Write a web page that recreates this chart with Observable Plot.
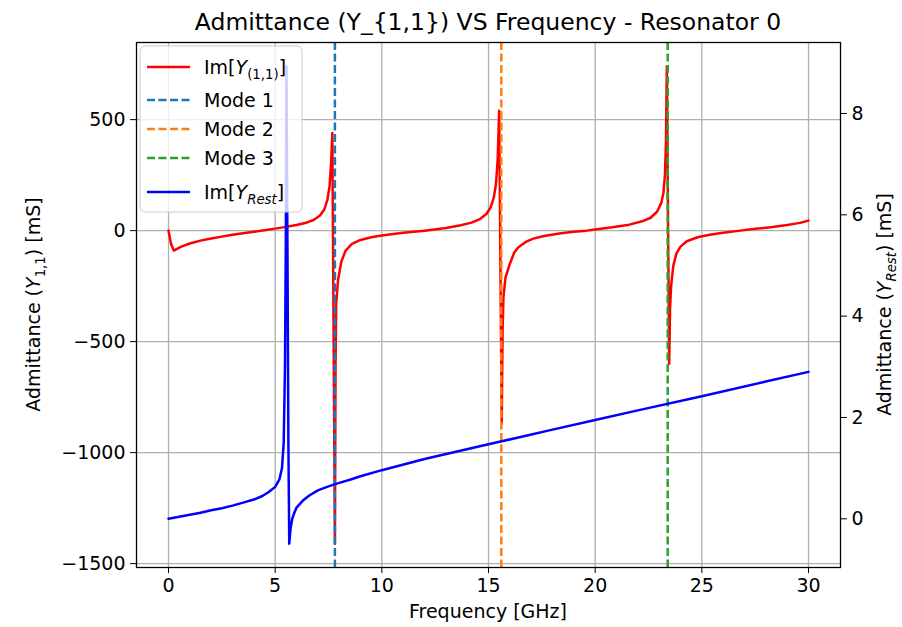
<!DOCTYPE html>
<html><head><meta charset="utf-8">
<script src="https://cdn.jsdelivr.net/npm/d3@7"></script>
<script src="https://cdn.jsdelivr.net/npm/@observablehq/plot@0.6"></script>
<style>
body{margin:0;background:#fff;}
svg{font-family:"DejaVu Sans",sans-serif;}
</style></head><body><div id="chart"></div>
<script>
// ---- data ----
const freqY11 = [0,0.12,0.25,0.4,0.6,1.0,1.5,2.0,2.5,3.0,3.5,4.0,4.5,5.0,5.5,6.0,6.5,6.8,7.1,7.3,7.45,7.55,7.62,7.68,
  7.80,7.83,7.86,7.95,8.1,8.3,8.6,9.0,9.5,10,11,12,13,13.7,14.2,14.6,14.9,15.1,15.25,15.35,15.43,15.5,
  15.62,15.66,15.7,15.8,16.0,16.2,16.4,16.8,17.1,17.6,18.4,19.0,19.6,20.0,20.8,21.6,22.2,22.6,22.9,23.1,23.2,23.27,23.32,23.36,
  23.47,23.51,23.56,23.66,23.8,24.0,24.3,24.8,25.3,26.0,26.8,27.5,28.3,29.0,29.6,30.0];
const imY11 = [0,-60,-90,-82,-72,-58,-45,-35,-27,-19,-12,-5,2,9,17,25,37,48,68,95,140,200,300,440,
  -1410,-600,-330,-220,-140,-90,-60,-42,-30,-22,-10,0,12,24,36,52,75,105,150,210,320,540,
  -870,-450,-300,-210,-150,-100,-75,-48,-36,-24,-12,-5,0,5,15,27,42,58,85,125,170,250,400,740,
  -600,-350,-250,-160,-105,-72,-48,-30,-20,-10,0,8,16,25,35,45];
const freqRest = [0,0.5,1.0,1.5,2.0,2.5,3.0,3.5,4.0,4.4,4.7,5.0,5.2,5.32,5.4,5.46,5.5,5.53,5.58,5.62,5.66,5.72,5.8,5.9,
  6.0,6.3,6.6,7.0,7.5,8.0,8.5,9.0,10,12,15,18,20,22,25,28,30];
const imYRest = [0,0.04,0.08,0.12,0.17,0.21,0.26,0.32,0.38,0.45,0.53,0.63,0.78,1.0,1.5,3.0,5.5,8.93,5.0,1.5,-0.49,-0.2,0.0,0.12,
  0.22,0.36,0.46,0.56,0.64,0.71,0.77,0.84,0.96,1.18,1.47,1.76,1.95,2.14,2.42,2.71,2.9];
const modeFreqs = [7.8, 15.6, 23.4];
const modeNames = ["Mode 1", "Mode 2", "Mode 3"];
const modeColors = ["#1f77b4", "#ff7f0e", "#2ca02c"];
const xTicks = [0, 5, 10, 15, 20, 25, 30];
const yLeftTicks = [-1500, -1000, -500, 0, 500];
const yRightTicks = [0, 2, 4, 6, 8];

// ---- scales (matplotlib-like 5% margins) ----
function padded(vals){const lo=d3.min(vals), hi=d3.max(vals), m=(hi-lo)*0.05; return [lo-m, hi+m];}
const xDom = padded(freqY11.concat(freqRest));
const leftDom = padded(imY11);
const rightDom = padded(imYRest);
const toLeft = v => leftDom[0] + (v - rightDom[0]) / (rightDom[1] - rightDom[0]) * (leftDom[1] - leftDom[0]);

const red = freqY11.map((f, i) => ({f, v: imY11[i]}));
const rest = freqRest.map((f, i) => ({f, v: toLeft(imYRest[i])}));
const modes = modeFreqs.map((f, i) => ({f, name: modeNames[i], color: modeColors[i]}));
const rightPos = yRightTicks.map(toLeft);
const fmt = d => d < 0 ? "\u2212" + Math.abs(d) : String(d);

const W = 902, H = 627, mL = 136, mR = 62, mT = 42, mB = 60;
const FS = 19, LW = 2.5;
const plot = Plot.plot({
  width: W, height: H, marginLeft: mL, marginRight: mR, marginTop: mT, marginBottom: mB,
  style: {fontFamily: '"DejaVu Sans", sans-serif', fontSize: FS + "px", color: "#000", background: "#fff"},
  x: {domain: xDom},
  y: {domain: leftDom},
  marks: [
    Plot.gridX(xTicks, {stroke: "#b0b0b0", strokeOpacity: 1, strokeWidth: 1.3}),
    Plot.gridY(yLeftTicks, {stroke: "#b0b0b0", strokeOpacity: 1, strokeWidth: 1.3}),
    Plot.line(red, {x: "f", y: "v", stroke: "red", strokeWidth: LW}),
    Plot.ruleX(modes, {x: "f", stroke: "color", strokeWidth: LW, strokeDasharray: "8,3.5"}),
    Plot.line(rest, {x: "f", y: "v", stroke: "blue", strokeWidth: LW}),
    Plot.frame({stroke: "#000", strokeWidth: 1.3}),
    Plot.axisX(xTicks, {tickSize: 6, tickPadding: 5, label: null, tickFormat: fmt}),
    Plot.axisY(yLeftTicks, {anchor: "left", tickSize: 6, tickPadding: 5, label: null, tickFormat: fmt}),
    Plot.axisY(rightPos, {anchor: "right", tickSize: 6, tickPadding: 5, label: null,
      tickFormat: d => String(yRightTicks[rightPos.indexOf(d)])})
  ]
});
document.getElementById("chart").appendChild(plot);

// ---- title, axis labels, legend ----
const svg = d3.select(plot);
const cx = mL + (W - mL - mR) / 2;
svg.append("text").attr("x", cx).attr("y", 30).attr("text-anchor", "middle")
  .style("font-size", "23.5px").attr("fill", "#000")
  .text("Admittance (Y_{1,1}) VS Frequency - Resonator 0");
svg.append("text").attr("x", cx).attr("y", 618).attr("text-anchor", "middle")
  .style("font-size", FS + "px").attr("fill", "#000").text("Frequency [GHz]");

function subLabel(g, pre, sym, sub, post, subItalic) {
  g.append("tspan").text(pre);
  g.append("tspan").style("font-style", "italic").text(sym);
  g.append("tspan").attr("dy", 5).style("font-size", "0.7em").style("font-style", subItalic ? "italic" : "normal").text(sub);
  g.append("tspan").attr("dy", -5).text(post);
}
const yMid = mT + (H - mT - mB) / 2;
const ll = svg.append("text").attr("transform", `translate(40,${yMid}) rotate(-90)`)
  .attr("text-anchor", "middle").style("font-size", FS + "px").attr("fill", "#000");
subLabel(ll, "Admittance (", "Y", "1,1", ") [mS]", false);
const rl = svg.append("text").attr("transform", `translate(891,${yMid}) rotate(-90)`)
  .attr("text-anchor", "middle").style("font-size", FS + "px").attr("fill", "#000");
subLabel(rl, "Admittance (", "Y", "Rest", ") [mS]", true);

const lg = svg.append("g").attr("transform", `translate(${mL + 4},${mT + 4})`);
lg.append("rect").attr("width", 162).attr("height", 166).attr("rx", 5)
  .attr("fill", "#fff").attr("fill-opacity", 0.8).attr("stroke", "#cccccc");
const entries = [
  {color: "red", dash: null, kind: "y11", y: 21},
  {color: modeColors[0], dash: "8,3.5", label: modeNames[0], y: 54},
  {color: modeColors[1], dash: "8,3.5", label: modeNames[1], y: 83},
  {color: modeColors[2], dash: "8,3.5", label: modeNames[2], y: 112},
  {color: "blue", dash: null, kind: "rest", y: 146}
];
for (const e of entries) {
  lg.append("line").attr("x1", 7).attr("x2", 50).attr("y1", e.y).attr("y2", e.y)
    .attr("stroke", e.color).attr("stroke-width", LW).attr("stroke-dasharray", e.dash);
  const t = lg.append("text").attr("x", 64).attr("y", e.y + 7).attr("text-anchor", "start")
    .style("font-size", FS + "px").attr("fill", "#000");
  if (e.kind === "y11") subLabel(t, "Im[", "Y", "(1,1)", "]", false);
  else if (e.kind === "rest") subLabel(t, "Im[", "Y", "Rest", "]", true);
  else t.text(e.label);
}
</script></body></html>
